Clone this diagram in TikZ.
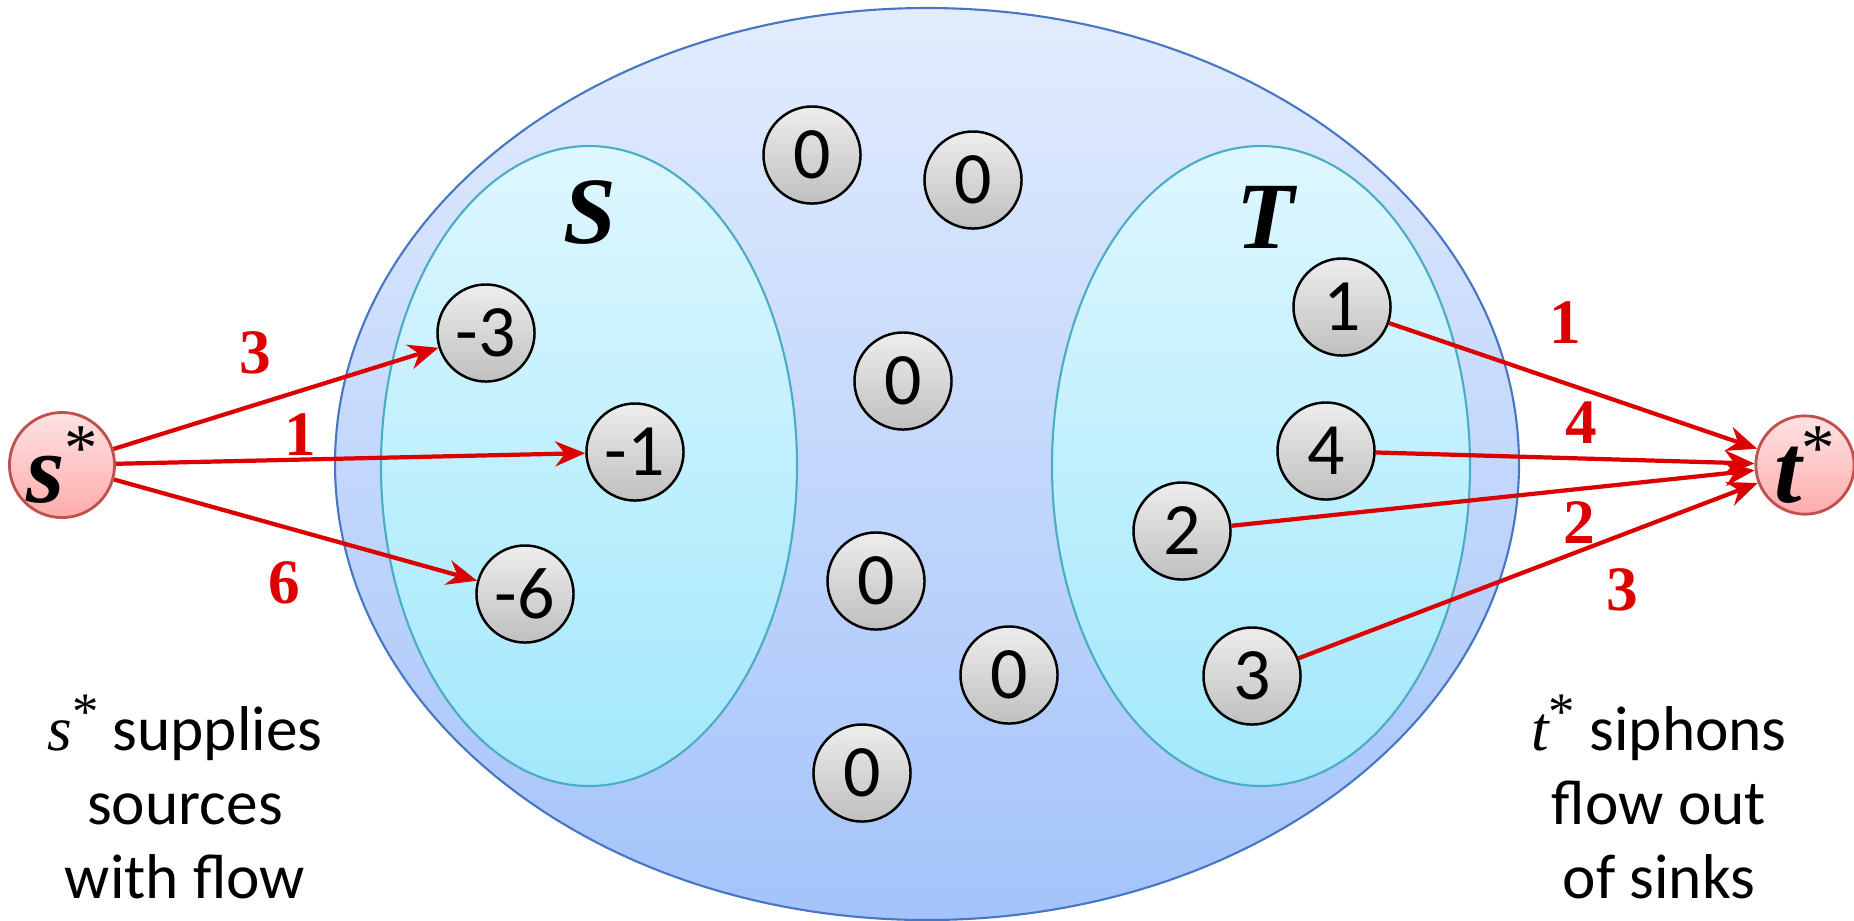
\documentclass[tikz,border=0pt]{standalone}
\usepackage{amsmath}
\usepackage{amssymb}
\usepackage{fontspec}
\setmainfont{Carlito}
\newfontfamily\numfont{Liberation Serif}
\usetikzlibrary{arrows.meta}

\definecolor{flowred}{RGB}{220,0,0}
\definecolor{outertop}{RGB}{226,236,253}
\definecolor{outerbot}{RGB}{164,195,250}
\definecolor{outerline}{RGB}{70,118,196}
\definecolor{innertop}{RGB}{222,247,255}
\definecolor{innerbot}{RGB}{162,232,251}
\definecolor{innerline}{RGB}{75,172,198}
\definecolor{termtop}{RGB}{255,226,226}
\definecolor{termbot}{RGB}{255,172,172}
\definecolor{termline}{RGB}{192,80,77}

\newcommand{\flowstar}[1]{\raisebox{0.33em}{\mdseries\upshape\fontsize{#1}{#1}\selectfont *}}

\begin{document}
\begin{tikzpicture}[x=0.01cm,y=-0.01cm]
\tikzstyle{every node}+=[inner sep=0pt]
\tikzstyle{vtx}=[circle,draw=black,line width=0.7pt,top color=black!7,bottom color=black!25,minimum size=0.97cm,font=\fontsize{21}{25}\selectfont]
\tikzstyle{term}=[circle,draw=termline,line width=0.8pt,top color=termtop,bottom color=termbot,minimum size=0.97cm,font=\numfont\bfseries\itshape\fontsize{28}{30}\selectfont]
\tikzstyle{flow}=[draw=flowred,line width=1.2pt,-{Stealth[length=0.3cm,width=0.25cm]}]
\tikzstyle{amt}=[text=flowred,font=\numfont\bfseries\fontsize{18}{22}\selectfont]
\tikzstyle{setname}=[font=\numfont\bfseries\itshape\fontsize{27}{30}\selectfont]
\tikzstyle{note}=[align=center,font=\fontsize{18}{21}\selectfont]
\useasboundingbox (0,0) rectangle (1854,920);
% the graph and the two sets
\draw [draw=outerline,line width=0.6pt,top color=outertop,bottom color=outerbot] (927,464) ellipse (592 and 456);
\draw [draw=innerline,line width=0.6pt,top color=innertop,bottom color=innerbot] (589,466) ellipse (208 and 320);
\draw [draw=innerline,line width=0.6pt,top color=innertop,bottom color=innerbot] (1261,466) ellipse (209 and 320);
\node [setname] (S) at (590,213) {S};
\node [setname] (T) at (1265,217) {T};
% sources
\node [vtx] (m3) at (486,333) {-3};
\node [vtx] (m1) at (635,452) {-1};
\node [vtx] (m6) at (525,594) {-6};
% inner vertices
\node [vtx] (z1) at (812,155) {0};
\node [vtx] (z2) at (973,180) {0};
\node [vtx] (z3) at (903,381) {0};
\node [vtx] (z4) at (876,581) {0};
\node [vtx] (z5) at (1009,675) {0};
\node [vtx] (z6) at (862,773) {0};
% sinks
\node [vtx] (p1) at (1342,307) {1};
\node [vtx] (p4) at (1326,451) {4};
\node [vtx] (p2) at (1182,531) {2};
\node [vtx] (p3) at (1252,676) {3};
% super source and super sink
\node [term] (ss) at (62,465) {s\flowstar{19}};
\node [term] (ts) at (1805,465) {t\flowstar{19}};
\draw [flow] (ss) -- (m3);
\draw [flow] (ss) -- (m1);
\draw [flow] (ss) -- (m6);
\draw [flow] (p1) -- (ts);
\draw [flow] (p4) -- (ts);
\draw [flow] (p2) -- (ts);
\draw [flow] (p3) -- (ts);
\node [amt] (a3) at (255,353) {3};
\node [amt] (a1) at (300,435) {1};
\node [amt] (a6) at (284,583) {6};
\node [amt] (b1) at (1565,323) {1};
\node [amt] (b4) at (1581,423) {4};
\node [amt] (b2) at (1579,523) {2};
\node [amt] (b3) at (1622,590) {3};
% notes
\node [note] (sn) at (185,797) {{\numfont\itshape s\flowstar{15}} supplies\\sources\\with flow};
\node [note] (tn) at (1659,797) {{\numfont\itshape t\flowstar{15}} siphons\\flow out\\of sinks};
\end{tikzpicture}
\end{document}
